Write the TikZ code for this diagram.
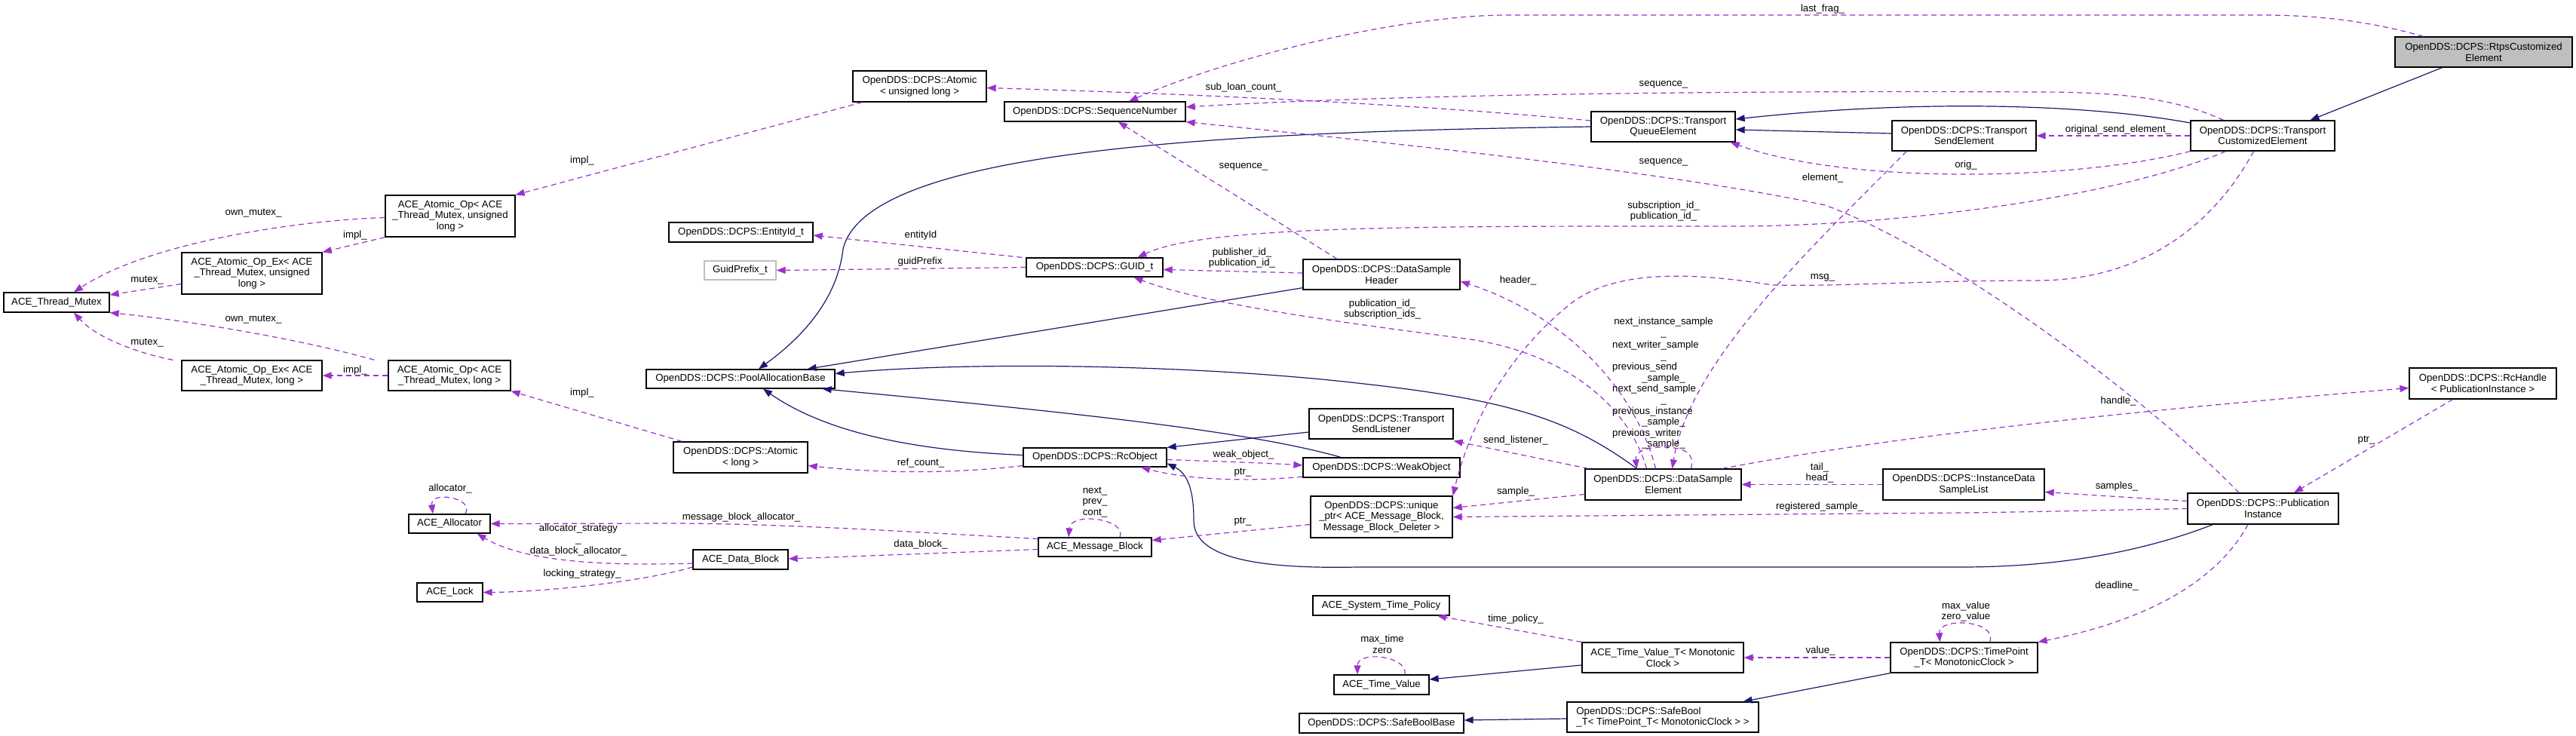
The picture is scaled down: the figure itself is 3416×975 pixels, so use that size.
\documentclass[tikz,border=0pt]{standalone}
\usepackage{fontspec}
\setmainfont{Liberation Sans}
\usetikzlibrary{arrows.meta,calc}

\definecolor{usecol}{HTML}{9A32CD}
\definecolor{inhcol}{HTML}{191970}
\definecolor{focuscol}{HTML}{BFBFBF}
\newcommand{\gfont}{\fontsize{13.2}{14.7}\selectfont}

\tikzset{
  cls/.style={draw=black, line width=1.3pt, fill=white, inner sep=0pt, align=center, font=\gfont},
  focus/.style={cls, fill=focuscol},
  undoc/.style={cls, draw=focuscol},
  usage/.style={usecol, line width=1.2pt, dash pattern=on 7pt off 5pt, -{Triangle[length=12pt,width=9pt]}},
  inherit/.style={inhcol, line width=1.2pt, -{Triangle[length=12pt,width=9pt]}},
  lbl/.style={inner sep=0pt, align=center, font=\gfont},
}

\begin{document}
\begin{tikzpicture}[x=1pt,y=1pt,yscale=-1,xscale=1]
\useasboundingbox (0,0) rectangle (3416,975);

% Classes
\node[focus, minimum width=235, minimum height=40] (rtps) at (3293.5,69) {OpenDDS::DCPS::RtpsCustomized\\Element};
\node[cls, minimum width=191, minimum height=40] (tce) at (3000.5,180) {OpenDDS::DCPS::Transport\\CustomizedElement};
\node[cls, minimum width=191, minimum height=40] (tse) at (2604.5,180) {OpenDDS::DCPS::Transport\\SendElement};
\node[cls, minimum width=191, minimum height=40] (tqe) at (2205.5,168) {OpenDDS::DCPS::Transport\\QueueElement};
\node[cls, minimum width=240, minimum height=26] (seqnum) at (1452,148) {OpenDDS::DCPS::SequenceNumber};
\node[cls, minimum width=177, minimum height=41] (atomul) at (1219.5,114.5) {OpenDDS::DCPS::Atomic\\< unsigned long >};
\node[cls, minimum width=172, minimum height=55] (aopul) at (597,286.5) {ACE\_Atomic\_Op< ACE\\\_Thread\_Mutex, unsigned\\long >};
\node[cls, minimum width=186, minimum height=55] (aopexul) at (334,362.5) {ACE\_Atomic\_Op\_Ex< ACE\\\_Thread\_Mutex, unsigned\\long >};
\node[cls, minimum width=140, minimum height=26] (mutex) at (75,401) {ACE\_Thread\_Mutex};
\node[cls, minimum width=191, minimum height=26] (entity) at (982.5,308) {OpenDDS::DCPS::EntityId\_t};
\node[undoc, minimum width=95, minimum height=25] (prefix) at (981.5,358.5) {GuidPrefix\_t};
\node[cls, minimum width=181, minimum height=25] (guid) at (1451.5,354.5) {OpenDDS::DCPS::GUID\_t};
\node[cls, minimum width=208, minimum height=40] (dsh) at (1832,364) {OpenDDS::DCPS::DataSample\\Header};
\node[cls, minimum width=250, minimum height=25] (pab) at (982,502.5) {OpenDDS::DCPS::PoolAllocationBase};
\node[cls, minimum width=186, minimum height=40] (aopexl) at (334,498) {ACE\_Atomic\_Op\_Ex< ACE\\\_Thread\_Mutex, long >};
\node[cls, minimum width=162, minimum height=40] (aopl) at (596,498) {ACE\_Atomic\_Op< ACE\\\_Thread\_Mutex, long >};
\node[cls, minimum width=178, minimum height=41] (atoml) at (982,606.5) {OpenDDS::DCPS::Atomic\\< long >};
\node[cls, minimum width=190, minimum height=25] (rcobj) at (1452,606.5) {OpenDDS::DCPS::RcObject};
\node[cls, minimum width=191, minimum height=40] (tsl) at (1831.5,562) {OpenDDS::DCPS::Transport\\SendListener};
\node[cls, minimum width=208, minimum height=26] (weak) at (1832,620) {OpenDDS::DCPS::WeakObject};
\node[cls, minimum width=188, minimum height=55] (uptr) at (1832,685.5) {OpenDDS::DCPS::unique\\\_ptr< ACE\_Message\_Block,\\Message\_Block\_Deleter >};
\node[cls, minimum width=108, minimum height=25] (alloc) at (596,694.5) {ACE\_Allocator};
\node[cls, minimum width=150, minimum height=25] (mblock) at (1452,725.5) {ACE\_Message\_Block};
\node[cls, minimum width=126, minimum height=26] (dblock) at (982,742) {ACE\_Data\_Block};
\node[cls, minimum width=87, minimum height=25] (lock) at (596.5,785.5) {ACE\_Lock};
\node[cls, minimum width=181, minimum height=26] (stp) at (1831.5,803) {ACE\_System\_Time\_Policy};
\node[cls, minimum width=126, minimum height=26] (tv) at (1832,908) {ACE\_Time\_Value};
\node[cls, minimum width=218, minimum height=26] (sbb) at (1832,959) {OpenDDS::DCPS::SafeBoolBase};
\node[cls, minimum width=207, minimum height=41] (dse) at (2205.5,642.5) {OpenDDS::DCPS::DataSample\\Element};
\node[cls, minimum width=214, minimum height=41] (idsl) at (2604,642.5) {OpenDDS::DCPS::InstanceData\\SampleList};
\node[cls, minimum width=214, minimum height=40] (tvt) at (2205,872) {ACE\_Time\_Value\_T< Monotonic\\Clock >};
\node[cls, minimum width=195, minimum height=40] (tp) at (2604.5,872) {OpenDDS::DCPS::TimePoint\\\_T< MonotonicClock >};
\node[cls, align=left, minimum width=254, minimum height=40] (sbt) at (2205,951) {OpenDDS::DCPS::SafeBool\\\_T< TimePoint\_T< MonotonicClock > >};
\node[cls, minimum width=200, minimum height=41] (pinst) at (3001,674.5) {OpenDDS::DCPS::Publication\\Instance};
\node[cls, minimum width=195, minimum height=41] (rch) at (3292.5,508.5) {OpenDDS::DCPS::RcHandle\\< PublicationInstance >};

% Inheritance
\draw[inherit] ($(rtps.south)+(-55,0)$) -- ($(tce.north)+(63,0)$);
\draw[inherit] ($(tce.west)+(0,-17)$) .. controls (2780,140) and (2560,130) .. ($(tqe.east)+(0,-10)$);
\draw[inherit] ($(tse.west)+(0,-3)$) -- ($(tqe.east)+(0,4)$);
\draw[inherit] (tqe.west) .. controls (1600,175) and (1150,200) .. (1118,330) .. controls (1110,400) and (1060,450) .. ($(pab.north)+(24,0)$);
\draw[inherit] ($(dsh.south west)+(0,-3)$) -- ($(pab.north east)+(-37,0)$);
\draw[inherit] ($(dse.north)+(-35,0)$) .. controls (2080,555) and (2000,530) .. (1800,508) .. controls (1600,485) and (1300,478) .. ($(pab.east)+(0,-7)$);
\draw[inherit] ($(weak.north)+(-54,0)$) .. controls (1650,570) and (1400,545) .. ($(pab.south east)+(-17,0)$);
\draw[inherit] ($(rcobj.west)+(0,-3)$) .. controls (1200,597) and (1090,570) .. ($(pab.south)+(30,0)$);
\draw[inherit] ($(tsl.west)+(0,11)$) -- (rcobj.north east);
\draw[inherit] ($(pinst.south west)+(34,0)$) .. controls (2820,740) and (2700,752) .. (2600,752) -- (1800,752) .. controls (1650,755) and (1583,735) .. (1583,690) .. controls (1583,650) and (1575,628) .. ($(rcobj.east)+(0,8)$);
\draw[inherit] (tp.south west) -- ($(sbt.north east)+(-21,0)$);
\draw[inherit] ($(sbt.west)+(0,2)$) -- ($(sbb.east)+(0,-4)$);
\draw[inherit] ($(tvt.west)+(0,10)$) -- ($(tv.east)+(0,-7)$);

% Usage
\draw[usage] ($(rtps.north)+(-80,0)$) .. controls (3150,30) and (3080,20) .. (3000,20) -- (2000,20) .. controls (1850,20) and (1620,80) .. ($(seqnum.north)+(45,0)$);
\draw[usage] (tce.west) -- (tse.east);
\draw[usage] (tce.south west) .. controls (2750,240) and (2450,245) .. ($(tqe.south east)+(-7,0)$);
\draw[usage] ($(tqe.west)+(0,-8)$) .. controls (1950,145) and (1700,128) .. ($(atomul.east)+(0,2)$);
\draw[usage] ($(tce.north)+(-52,0)$) .. controls (2880,128) and (2800,122) .. (2700,122) .. controls (2300,120) and (1850,125) .. ($(seqnum.east)+(0,-6)$);
\draw[usage] ($(dsh.north)+(-59,0)$) -- ($(seqnum.south)+(31,0)$);
\draw[usage] ($(pinst.north)+(-32,0)$) .. controls (2850,530) and (2580,330) .. (2420,272) .. controls (2200,225) and (1800,185) .. (seqnum.south east);
\draw[usage] ($(dsh.west)+(0,-2)$) -- ($(guid.east)+(0,3)$);
\draw[usage] ($(tce.south)+(-49,0)$) .. controls (2800,265) and (2500,300) .. (2300,300) .. controls (1900,300) and (1600,298) .. ($(guid.north)+(57,0)$);
\draw[usage] ($(dse.north)+(-22,0)$) .. controls (2160,540) and (2080,470) .. (1950,450) .. controls (1800,430) and (1600,405) .. ($(guid.south)+(52,0)$);
\draw[usage] ($(guid.north west)+(-5,0)$) -- ($(entity.east)+(0,4)$);
\draw[usage] (guid.west) -- (prefix.east);
\draw[usage] ($(rcobj.east)+(0,3)$) .. controls (1620,612) and (1680,614) .. ($(weak.west)+(0,-3)$);
\draw[usage] ($(weak.west)+(0,12)$) .. controls (1650,640) and (1570,635) .. ($(rcobj.south)+(61,0)$);
\draw[usage] ($(uptr.west)+(0,10)$) -- ($(mblock.east)+(0,-9)$);
\draw[usage] ($(mblock.north)+(33,0)$) .. controls (1495,688) and (1420,678) .. ($(mblock.north)+(-35,0)$);
\draw[usage] ($(mblock.west)+(0,3)$) -- ($(dblock.east)+(0,-1)$);
\draw[usage] ($(mblock.west)+(0,-11)$) .. controls (1200,705) and (1050,695) .. (900,694) -- (alloc.east);
\draw[usage] ($(dblock.west)+(0,5)$) .. controls (820,750) and (700,748) .. ($(alloc.south east)+(-18,0)$);
\draw[usage] ($(dblock.west)+(0,10)$) .. controls (850,772) and (720,785) .. (lock.east);
\draw[usage] ($(alloc.north)+(21,0)$) .. controls (630,660) and (570,650) .. ($(alloc.north)+(-22,0)$);
\draw[usage] ($(rcobj.west)+(0,11)$) .. controls (1250,630) and (1150,626) .. ($(atoml.east)+(0,11)$);
\draw[usage] ($(atoml.north west)+(12,0)$) -- (aopl.south east);
\draw[usage] (aopl.west) -- (aopexl.east);
\draw[usage] ($(aopl.north west)+(-18,0)$) .. controls (400,450) and (250,425) .. (mutex.south east);
\draw[usage] ($(aopexl.north west)+(-11,0)$) .. controls (190,470) and (130,450) .. ($(mutex.south)+(23,0)$);
\draw[usage] ($(atomul.south west)+(13,0)$) -- (aopul.north east);
\draw[usage] (aopul.south west) -- (aopexul.north east);
\draw[usage] ($(aopul.west)+(0,2)$) .. controls (400,292) and (200,320) .. ($(mutex.north)+(23,0)$);
\draw[usage] ($(aopexul.west)+(0,14)$) -- ($(mutex.east)+(0,-10)$);
\draw[usage] ($(dse.north west)+(5,0)$) -- ($(tsl.south east)+(0,2)$);
\draw[usage] ($(dse.west)+(0,13)$) -- ($(uptr.east)+(0,-12)$);
\draw[usage] (pinst.west) .. controls (2800,676) and (2700,679) .. (2600,680) -- (uptr.east);
\draw[usage] ($(pinst.west)+(0,-10)$) -- ($(idsl.east)+(0,10)$);
\draw[usage] (idsl.west) -- (dse.east);
\draw[usage] ($(dse.north east)+(-26,0)$) .. controls (2450,590) and (2700,555) .. ($(rch.west)+(0,6)$);
\draw[usage] ($(rch.south)+(-40,0)$) -- ($(pinst.north)+(41,0)$);
\draw[usage] ($(tse.south west)+(20,0)$) .. controls (2400,330) and (2240,480) .. ($(dse.north)+(12,0)$);
\draw[usage] ($(dse.north)+(-10,0)$) .. controls (2170,520) and (2080,420) .. ($(dsh.east)+(0,9)$);
\draw[usage] ($(dse.north)+(37,0)$) .. controls (2248,600) and (2232,593) .. (2205,593) .. controls (2180,593) and (2168,600) .. ($(dse.north)+(-35,0)$);
\draw[usage] ($(tce.south)+(-12,0)$) .. controls (2940,290) and (2850,372) .. (2700,372) .. controls (2550,372) and (2450,380) .. (2350,378) .. controls (2250,362) and (2140,355) .. (2080,405) .. controls (2000,470) and (1950,560) .. (uptr.north east);
\draw[usage] ($(pinst.south)+(-20,0)$) .. controls (2940,770) and (2850,822) .. (tp.north east);
\draw[usage] (tp.west) -- (tvt.east);
\draw[usage] ($(tp.north)+(34,0)$) .. controls (2650,822) and (2570,818) .. ($(tp.north)+(-32,0)$);
\draw[usage] (tvt.north west) -- ($(stp.south)+(74.5,0)$);
\draw[usage] ($(tv.north)+(31,0)$) .. controls (1868,870) and (1800,862) .. ($(tv.north)+(-32,0)$);

% Text Node
\node[lbl] (l-lastfrag) at (2417,12) {last\_frag\_};
\node[lbl] (l-origsend) at (2809,172) {original\_send\_element\_};
\node[lbl] (l-orig) at (2607,219) {orig\_};
\node[lbl] (l-subloan) at (1649,116) {sub\_loan\_count\_};
\node[lbl] (l-seqa) at (2206,112) {sequence\_};
\node[lbl] (l-seqb) at (1649,221) {sequence\_};
\node[lbl] (l-seqc) at (2206,215) {sequence\_};
\node[lbl] (l-pubid) at (1647,342) {publisher\_id\_\\publication\_id\_};
\node[lbl] (l-subid) at (2206,280) {subscription\_id\_\\publication\_id\_};
\node[lbl] (l-subids) at (1833,410) {publication\_id\_\\subscription\_ids\_};
\node[lbl] (l-entity) at (1221,312) {entityId};
\node[lbl] (l-prefix) at (1220,347) {guidPrefix};
\node[lbl] (l-weakobj) at (1649,603) {weak\_object\_};
\node[lbl] (l-ptra) at (1648,627) {ptr\_};
\node[lbl] (l-ptrb) at (1648,692) {ptr\_};
\node[lbl] (l-next) at (1452,666) {next\_\\prev\_\\cont\_};
\node[lbl] (l-datablock) at (1221,722) {data\_block\_};
\node[lbl] (l-mballoc) at (983,686) {message\_block\_allocator\_};
\node[lbl] (l-allocstrat) at (767,716) {allocator\_strategy\\\_\\data\_block\_allocator\_};
\node[lbl] (l-locking) at (772,761) {locking\_strategy\_};
\node[lbl] (l-allocator) at (597,648) {allocator\_};
\node[lbl] (l-refcount) at (1221,614) {ref\_count\_};
\node[lbl] (l-impla) at (772,521) {impl\_};
\node[lbl] (l-implb) at (471,491) {impl\_};
\node[lbl] (l-implc) at (772,213) {impl\_};
\node[lbl] (l-impld) at (471,312) {impl\_};
\node[lbl] (l-ownmutexa) at (336,424) {own\_mutex\_};
\node[lbl] (l-ownmutexb) at (336,283) {own\_mutex\_};
\node[lbl] (l-mutexa) at (195,455) {mutex\_};
\node[lbl] (l-mutexb) at (195,372) {mutex\_};
\node[lbl] (l-sendlist) at (2010,584) {send\_listener\_};
\node[lbl] (l-sample) at (2010,652) {sample\_};
\node[lbl] (l-regsample) at (2413,672) {registered\_sample\_};
\node[lbl] (l-samples) at (2807,645) {samples\_};
\node[lbl] (l-tailhead) at (2413,627) {tail\_\\head\_};
\node[lbl] (l-handle) at (2809,532) {handle\_};
\node[lbl] (l-ptrc) at (3138,584) {ptr\_};
\node[lbl] (l-element) at (2417,236) {element\_};
\node[lbl] (l-header) at (2013,372) {header\_};
\node[lbl] (l-msg) at (2417,368) {msg\_};
\node[lbl] (l-deadline) at (2807,777) {deadline\_};
\node[lbl] (l-value) at (2414,863) {value\_};
\node[lbl] (l-maxvalue) at (2607,811) {max\_value\\zero\_value};
\node[lbl] (l-timepolicy) at (2010,821) {time\_policy\_};
\node[lbl] (l-maxtime) at (1833,854) {max\_time\\zero};

% Text Node: DataSampleElement links
\foreach \i/\yy/\txt in {1/430.7/next\_instance\_sample, 2/445.7/\_, 4/476/\_, 6/505/\_sample\_, 8/534/\_, 10/563.3/\_sample\_, 12/592.7/\_sample\_}
  \node[lbl, anchor=base] (dsl\i) at (2206,\yy) {\txt};
\foreach \i/\yy/\txt in {3/461/next\_writer\_sample, 5/490/previous\_send, 7/519/next\_send\_sample, 9/549/previous\_instance, 11/578.3/previous\_writer}
  \node[lbl, anchor=base west] (dsl\i) at (2138,\yy) {\txt};
\end{tikzpicture}
\end{document}
